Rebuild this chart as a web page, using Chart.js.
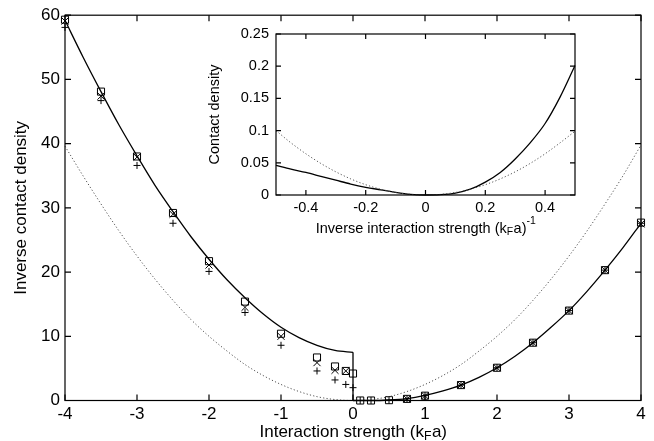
<!DOCTYPE html>
<html><head><meta charset="utf-8">
<script src="https://cdn.jsdelivr.net/npm/chart.js@4.4.1/dist/chart.umd.min.js"></script>
<style>
html,body{margin:0;padding:0;background:#fff;}
#wrap{position:relative;width:654px;height:441px;overflow:hidden;}
#wrap canvas{position:absolute;left:0;top:0;}
</style></head><body>
<div id="wrap"><canvas id="main" width="654" height="441" style="width:654px;height:441px"></canvas><canvas id="inset" width="654" height="441" style="width:654px;height:441px"></canvas></div>
<script>
// ---------- main panel data ----------
const mainXTicks = [-4,-3,-2,-1,0,1,2,3,4];
const mainXLabels = ['-4','-3','-2','-1','0','1','2','3','4'];
const mainYTicks = [0,10,20,30,40,50,60];
const mainYLabels = ['0','10','20','30','40','50','60'];

const solidLX = [-4,-3.75,-3.5,-3.25,-3,-2.75,-2.5,-2.25,-2,-1.75,-1.5,-1.25,-1,-0.75,-0.5,-0.25,0];
const solidLY = [59.2,53.5,48.1,42.9,38.1,33.5,29.4,25.5,22.0,18.8,16.0,13.5,11.4,9.8,8.6,7.8,7.5];
const solidRX = [0,0.25,0.5,0.75,1,1.25,1.5,1.75,2,2.25,2.5,2.75,3,3.25,3.5,3.75,4];
const solidRY = [0,0.0,0.08,0.3,0.8,1.5,2.4,3.6,5.1,6.9,9.0,11.4,14.0,17.0,20.3,23.8,27.6];

const dotX = [-4,-3.75,-3.5,-3.25,-3,-2.75,-2.5,-2.25,-2,-1.75,-1.5,-1.25,-1,-0.75,-0.5,-0.25,0,0.25,0.5,0.75,1,1.25,1.5,1.75,2,2.25,2.5,2.75,3,3.25,3.5,3.75,4];
const dotY = [39.6,35.0,30.6,26.4,22.5,18.9,15.6,12.6,10.0,7.7,5.6,3.9,2.5,1.4,0.6,0.15,0,0.15,0.6,1.4,2.5,3.9,5.6,7.7,10.0,12.6,15.6,18.9,22.5,26.4,30.6,35.0,39.8];

const ptX = [-4,-3.5,-3,-2.5,-2,-1.5,-1,-0.5,-0.25,-0.1,0,0.1,0.25,0.5,0.75,1,1.5,2,2.5,3,3.5,4];
const squareY = [59.3,48.1,38.0,29.2,21.7,15.4,10.4,6.7,5.3,4.6,4.2,0,0,0.05,0.25,0.75,2.4,5.1,9.0,14.0,20.3,27.7];
const plusY = [58.1,46.7,36.6,27.6,20.1,13.7,8.6,4.6,3.2,2.5,2.0,0,0,0.05,0.25,0.75,2.4,5.1,9.0,14.0,20.3,27.6];
const crossX = [-4,-3.5,-3,-2.5,-2,-1.5,-1,-0.5,-0.25,-0.1,0.75,1,1.5,2,2.5,3,3.5,4];
const crossY = [59.1,47.4,37.9,29.0,21.1,14.5,10.0,5.9,4.7,4.6,0.25,0.75,2.4,5.1,9.0,14.0,20.3,27.5];

// ---------- inset data ----------
const insetXTicks = [-0.4,-0.2,0,0.2,0.4];
const insetXLabels = ['-0.4','-0.2','0','0.2','0.4'];
const insetYTicks = [0,0.05,0.1,0.15,0.2,0.25];
const insetYLabels = ['0','0.05','0.1','0.15','0.2','0.25'];
const inX = [-0.5,-0.45,-0.4,-0.35,-0.3,-0.25,-0.2,-0.15,-0.1,-0.05,0,0.05,0.1,0.15,0.2,0.25,0.3,0.35,0.4,0.45,0.5];
const inSolidY = [0.046,0.040,0.035,0.029,0.023,0.017,0.012,0.008,0.004,0.001,0,0.0005,0.003,0.009,0.020,0.035,0.056,0.081,0.111,0.152,0.201];
const inDotY = [0.100,0.081,0.064,0.049,0.036,0.025,0.016,0.009,0.004,0.001,0,0.001,0.004,0.009,0.016,0.025,0.036,0.049,0.064,0.081,0.099];

const FONT = "'Liberation Sans', Arial, Helvetica, sans-serif";
const toPts = (xs, ys) => xs.map((x, i) => ({x: x, y: ys[i]}));

const framePlugin = {
  id: 'frame',
  beforeDraw(chart, args, o) {
    if (o.bg) {
      const c = chart.ctx; c.save(); c.fillStyle = o.bg;
      c.fillRect(0, 0, chart.width, chart.height); c.restore();
    }
  },
  afterDraw(chart, args, o) {
    const ctx = chart.ctx, a = chart.chartArea, xs = chart.scales.x, ys = chart.scales.y;
    ctx.save();
    ctx.strokeStyle = '#000';
    ctx.lineWidth = o.lineWidth;
    ctx.strokeRect(a.left, a.top, a.right - a.left, a.bottom - a.top);
    ctx.beginPath();
    const L = o.tickLen;
    xs.ticks.forEach(t => {
      const px = xs.getPixelForValue(t.value);
      ctx.moveTo(px, a.bottom); ctx.lineTo(px, a.bottom - L);
      ctx.moveTo(px, a.top); ctx.lineTo(px, a.top + L);
    });
    ys.ticks.forEach(t => {
      const py = ys.getPixelForValue(t.value);
      ctx.moveTo(a.left, py); ctx.lineTo(a.left + L, py);
      ctx.moveTo(a.right, py); ctx.lineTo(a.right - L, py);
    });
    ctx.stroke();
    // x-axis title with sub/superscripts
    const size = o.titleSize;
    const fontOf = k => (k ? (size * 0.72).toFixed(2) : size) + 'px ' + FONT;
    let total = 0;
    o.titleParts.forEach(p => { ctx.font = fontOf(p[1]); total += ctx.measureText(p[0]).width; });
    let x = (a.left + a.right) / 2 - total / 2;
    const base = a.bottom + o.titleOffset;
    ctx.fillStyle = '#000';
    ctx.textBaseline = 'alphabetic';
    ctx.textAlign = 'left';
    o.titleParts.forEach(p => {
      ctx.font = fontOf(p[1]);
      const dy = p[1] === 'sub' ? size * 0.16 : (p[1] === 'sup' ? -size * 0.6 : 0);
      ctx.fillText(p[0], x, base + dy);
      x += ctx.measureText(p[0]).width + (p[1] === 'sub' ? 0.5 : 0);
    });
    ctx.restore();
  }
};

const lineDs = (pts, w) => ({data: pts, showLine: true, borderColor: '#000', borderWidth: w, pointRadius: 0, cubicInterpolationMode: 'monotone', clip: false});
const dotDs = (pts) => ({data: pts, showLine: true, borderColor: '#555', borderWidth: 1, borderDash: [1.2, 2.2], pointRadius: 0, cubicInterpolationMode: 'monotone', clip: false});
const markDs = (pts, style, r) => ({data: pts, showLine: false, pointStyle: style, pointRadius: r, pointBorderWidth: 1, borderColor: '#000', pointBorderColor: '#000', backgroundColor: 'rgba(0,0,0,0)', pointBackgroundColor: 'rgba(0,0,0,0)', clip: false});

const scaleCommon = (min, max, tickVals, tickLabels, size, pad) => ({
  type: 'linear', min: min, max: max,
  afterBuildTicks: s => { s.ticks = tickVals.map(v => ({value: v})); },
  grid: {display: false, drawTicks: false},
  border: {display: false},
  ticks: {font: {size: size, family: FONT}, color: '#000', padding: pad, maxRotation: 0, autoSkip: false,
          callback: (v, i) => tickLabels[i]}
});

// ---------- main chart ----------
const mx = scaleCommon(-4, 4, mainXTicks, mainXLabels, 17, 4);
mx.afterFit = s => { s.height = 40.5; };
const my = scaleCommon(0, 60, mainYTicks, mainYLabels, 17, 5);
my.afterFit = s => { s.width = 65; };
my.title = {display: true, text: 'Inverse contact density', color: '#000', font: {size: 17, family: FONT}, padding: {top: 10.8, bottom: 0}};

new Chart(document.getElementById('main'), {
  type: 'scatter',
  data: {datasets: [
    dotDs(toPts(dotX, dotY)),
    lineDs(toPts(solidLX, solidLY), 1.3),
    lineDs([{x: solidLX[solidLX.length - 1], y: solidLY[solidLY.length - 1]}, {x: solidRX[0], y: solidRY[0]}], 1.3),
    lineDs(toPts(solidRX, solidRY), 1.3),
    markDs(toPts(ptX, squareY), 'rect', 5),
    markDs(toPts(crossX, crossY), 'crossRot', 5),
    markDs(toPts(ptX, plusY), 'cross', 3.5)
  ]},
  options: {
    responsive: false, animation: false, events: [],
    layout: {padding: {left: 0, top: 12.5, right: 13, bottom: 0}},
    plugins: {legend: {display: false}, tooltip: {enabled: false},
      frame: {bg: '#fff', lineWidth: 1.2, tickLen: 6, titleSize: 17, titleOffset: 36.5,
              titleParts: [['Interaction strength (k', ''], ['F', 'sub'], ['a)', '']]}},
    scales: {x: mx, y: my}
  },
  plugins: [framePlugin]
});

// ---------- inset chart ----------
const ix = scaleCommon(-0.5, 0.5, insetXTicks, insetXLabels, 14.5, 4.5);
ix.afterFit = s => { s.height = 246; };
const iy = scaleCommon(0, 0.25, insetYTicks, insetYLabels, 14.5, 7);
iy.afterFit = s => { s.width = 76; };
iy.title = {display: true, text: 'Contact density', color: '#000', font: {size: 14.5, family: FONT}, padding: {top: 6.3, bottom: 0}};

new Chart(document.getElementById('inset'), {
  type: 'scatter',
  data: {datasets: [
    dotDs(toPts(inX, inDotY)),
    lineDs(toPts(inX, inSolidY), 1.3)
  ]},
  options: {
    responsive: false, animation: false, events: [],
    layout: {padding: {left: 200, top: 34, right: 79, bottom: 0}},
    plugins: {legend: {display: false}, tooltip: {enabled: false},
      frame: {bg: null, lineWidth: 1.2, tickLen: 5, titleSize: 14.5, titleOffset: 37.5,
              titleParts: [['Inverse interaction strength (k', ''], ['F', 'sub'], ['a)', ''], ['-1', 'sup']]}},
    scales: {x: ix, y: iy}
  },
  plugins: [framePlugin]
});
</script>
</body></html>
